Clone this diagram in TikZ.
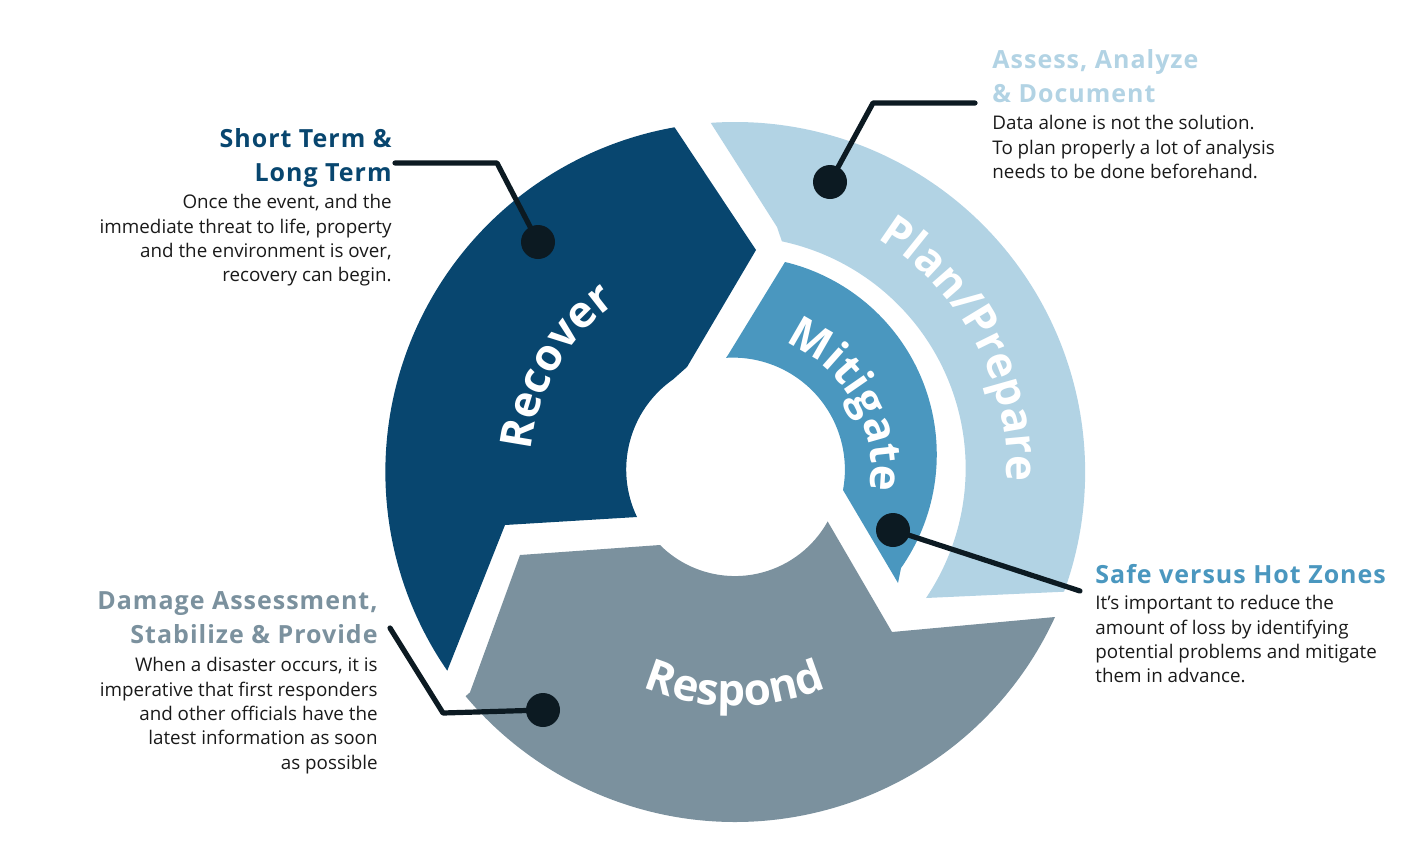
\documentclass[tikz,border=0pt]{standalone}
\usepackage{fontspec}
\setmainfont{Open Sans}
\newfontfamily\bigfont{Open Sans}
\newfontfamily\headfont[LetterSpace=4]{Open Sans}
\usetikzlibrary{decorations.text}
\definecolor{recoverblue}{HTML}{08466F}
\definecolor{planblue}{HTML}{B2D3E4}
\definecolor{mitigateblue}{HTML}{4A97BF}
\definecolor{respondgrey}{HTML}{7B919E}
\definecolor{dotblack}{HTML}{0C1A22}
\definecolor{bodytext}{HTML}{1A1A1A}
\tikzset{
    segment/.style = {draw=none},
    callout/.style = {draw=dotblack, line width=2.6pt, line join=round, line cap=round},
    dotnode/.style = {circle, fill=dotblack, minimum size=17pt, inner sep=0pt},
    headnode/.style = {inner sep=0pt, font=\headfont\fontsize{12.5}{17}\selectfont\bfseries, align=left},
    bodynode/.style = {inner sep=0pt, font=\fontsize{9.4}{12.2}\selectfont, text=bodytext, align=left},
    bigtext/.style = {decorate, decoration={text along path, text align=center,
      text={|\bigfont\fontsize{22}{22}\selectfont\bfseries\color{white}|#1}}}
}
\begin{document}
\begin{tikzpicture}[x=0.5pt, y=0.5pt]
    \useasboundingbox (0,0) rectangle (1407,-841);
    \coordinate (C) at (735,-470);
    % segments
    \fill[recoverblue, segment] (C) ++(100:348) arc[start angle=100, end angle=214.6, radius=350]
        -- (505,-525) -- (637,-517) arc[start angle=205.6, end angle=125, radius=110]
        -- (687,-367) -- (756,-250) -- cycle;
    \fill[planblue, segment] (C) ++(94:348) arc[start angle=94, end angle=-20, radius=350]
        -- (926,-598) arc[start angle=-34, end angle=78, radius=232] -- (777,-227) -- cycle;
    \fill[mitigateblue, segment] (728,-355) -- (785,-262) arc[start angle=76.5, end angle=-35, radius=198]
        -- (898,-583) -- (843,-490) arc[start angle=-10.5, end angle=93.5, radius=112] -- cycle;
    \fill[respondgrey, segment] (C) ++(220:346) -- (520,-555) -- (660,-545)
        arc[start angle=225, end angle=331, radius=106] -- (892,-632) -- (1055,-617)
        arc[start angle=-24.7, end angle=-140, radius=352] -- cycle;
    % segment labels
    \path[bigtext={Recover}] (C) ++(210:205) arc[start angle=210, end angle=90, radius=205];
    \path[bigtext={Plan/Prepare}] (C) ++(112:272) arc[start angle=112, end angle=-56, radius=272];
    \path[bigtext={Mitigate}] (C) ++(120:136) arc[start angle=120, end angle=-60, radius=136];
    \path[bigtext={Respond}] (C) ++(205:236) arc[start angle=205, end angle=335, radius=236];
    % callouts
    \node[dotnode] (dotRecover) at (538,-242) {};
    \node[dotnode] (dotPlan) at (830,-182) {};
    \node[dotnode] (dotMitigate) at (893,-530) {};
    \node[dotnode] (dotRespond) at (543,-710) {};
    \coordinate (endRecover) at (395,-163);
    \coordinate (endPlan) at (975,-103);
    \coordinate (endMitigate) at (1080,-591);
    \coordinate (endRespond) at (390,-628);
    \draw[callout] (dotRecover.center) -- (497,-163) -- (endRecover);
    \draw[callout] (dotPlan.center) -- (873,-103) -- (endPlan);
    \draw[callout] (dotMitigate.center) -- (endMitigate);
    \draw[callout] (dotRespond.center) -- (443,-713) -- (endRespond);
    % texts
    \node[headnode, anchor=north east, align=right, text=recoverblue] (headRecover) at (392,-128)
        {Short Term \&\\Long Term};
    \node[bodynode, anchor=north east, align=right] (bodyRecover) at (392,-194)
        {Once the event, and the\\immediate threat to life, property\\and the environment is over,\\recovery can begin.};
    \node[headnode, anchor=north west, text=planblue] (headPlan) at (992,-49)
        {Assess, Analyze\\\& Document};
    \node[bodynode, anchor=north west] (bodyPlan) at (992,-115)
        {Data alone is not the solution.\\To plan properly a lot of analysis\\needs to be done beforehand.};
    \node[headnode, anchor=north west, text=mitigateblue] (headMitigate) at (1095,-564)
        {Safe versus Hot Zones};
    \node[bodynode, anchor=north west] (bodyMitigate) at (1095,-595)
        {It’s important to reduce the\\amount of loss by identifying\\potential problems and mitigate\\them in advance.};
    \node[headnode, anchor=north east, align=right, text=respondgrey] (headRespond) at (378,-591)
        {Damage Assessment,\\Stabilize \& Provide};
    \node[bodynode, anchor=north east, align=right] (bodyRespond) at (378,-657)
        {When a disaster occurs, it is\\imperative that first responders\\and other officials have the\\latest information as soon\\as possible};
\end{tikzpicture}
\end{document}
